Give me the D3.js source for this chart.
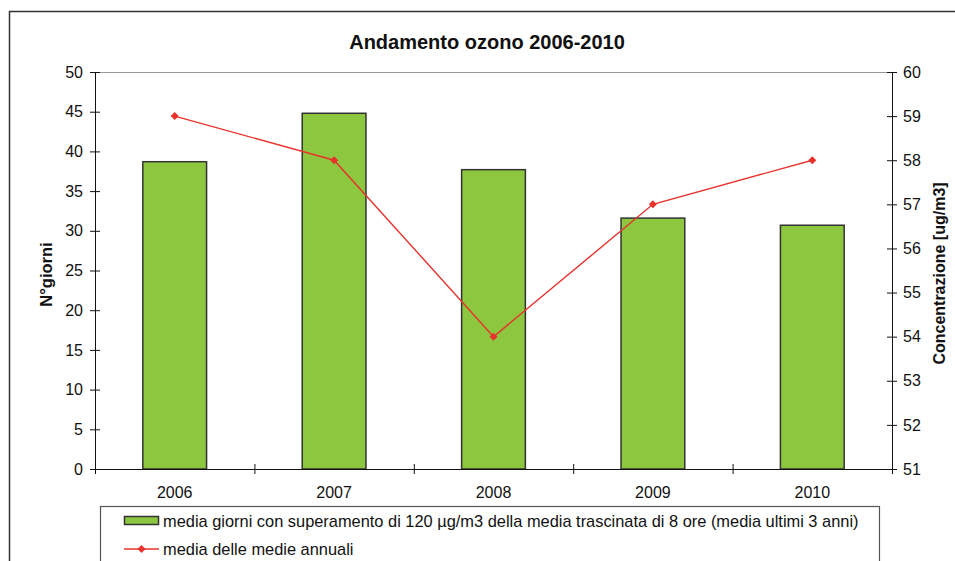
<!DOCTYPE html>
<html>
<head>
<meta charset="utf-8">
<script src="https://cdn.jsdelivr.net/npm/d3@7"></script>
<style>
  body { margin: 0; background: #fff; }
  svg text { font-family: "Liberation Sans", Arial, sans-serif; fill: #111; }
</style>
</head>
<body>
<div id="grafico"></div>
<script>
// dati
const anni = ['2006', '2007', '2008', '2009', '2010'];
const giorniSuperamento = [38.7, 44.8, 37.7, 31.6, 30.7];
const mediaAnnuale = [59, 58, 54, 57, 58];
const tickGiorni = [0, 5, 10, 15, 20, 25, 30, 35, 40, 45, 50];
const tickConc = [51, 52, 53, 54, 55, 56, 57, 58, 59, 60];
const legendaLabels = [
    'media giorni con superamento di 120 µg/m3 della media trascinata di 8 ore (media ultimi 3 anni)',
    'media delle medie annuali'
];

const W = 955, H = 561;
const plot = {left: 95, right: 892, top: 72, bottom: 469};
const rosso = '#e8322c';
const verde = '#8dc63f';

const svg = d3.select('#grafico')
    .append('svg')
    .attr('width', W)
    .attr('height', H);

// cornice esterna
svg.append('rect')
    .attr('x', 9.5)
    .attr('y', 11.5)
    .attr('width', 1000)
    .attr('height', 700)
    .attr('fill', 'none')
    .attr('stroke', '#333')
    .attr('stroke-width', 1.5);

svg.append('text')
    .attr('x', 487)
    .attr('y', 49)
    .attr('text-anchor', 'middle')
    .style('font-size', '20px')
    .style('font-weight', 'bold')
    .text('Andamento ozono 2006-2010');

const x = d3.scaleBand()
    .domain(anni)
    .range([plot.left, plot.right])
    .paddingInner(0.6)
    .paddingOuter(0.3);

const xTick = d3.scaleLinear()
    .domain([0, anni.length])
    .range([plot.left, plot.right]);

const yL = d3.scaleLinear()
    .domain([0, 50])
    .range([plot.bottom, plot.top]);

const yR = d3.scaleLinear()
    .domain([51, 60])
    .range([plot.bottom, plot.top]);

// bordo superiore area grafico
svg.append('line')
    .attr('x1', plot.left)
    .attr('x2', plot.right)
    .attr('y1', plot.top + 0.5)
    .attr('y2', plot.top + 0.5)
    .attr('stroke', '#999')
    .attr('stroke-width', 1.2);

// barre
svg.append('g')
    .selectAll('rect')
    .data(anni)
    .join('rect')
    .attr('x', d => x(d))
    .attr('y', (d, i) => yL(giorniSuperamento[i]))
    .attr('width', x.bandwidth())
    .attr('height', (d, i) => yL(0) - yL(giorniSuperamento[i]))
    .attr('fill', verde)
    .attr('stroke', '#333')
    .attr('stroke-width', 1.5);

// assi
function stileAsse(g) {
    g.selectAll('.tick line').attr('stroke', '#111');
    g.select('.domain').attr('stroke', '#111');
    g.style('font-size', '16px');
}

const axL = svg.append('g')
    .attr('transform', `translate(${plot.left},0)`)
    .call(d3.axisLeft(yL).tickValues(tickGiorni).tickSize(5).tickPadding(7).tickSizeOuter(0))
    .call(stileAsse);
axL.selectAll('.tick line').attr('x1', 5);
axL.selectAll('text').attr('font-family', null).attr('font-size', null);

const axR = svg.append('g')
    .attr('transform', `translate(${plot.right},0)`)
    .call(d3.axisRight(yR).tickValues(tickConc).tickSize(5).tickPadding(6).tickSizeOuter(0))
    .call(stileAsse);
axR.selectAll('.tick line').attr('x1', -5);
axR.selectAll('text').attr('font-family', null).attr('font-size', null);

const axB = svg.append('g')
    .attr('transform', `translate(0,${plot.bottom})`)
    .call(d3.axisBottom(xTick).tickValues(d3.range(anni.length + 1)).tickSize(5).tickFormat('').tickSizeOuter(0))
    .call(stileAsse);
axB.selectAll('.tick line').attr('y1', -5);

const axLab = svg.append('g')
    .attr('transform', `translate(0,${plot.bottom})`)
    .call(d3.axisBottom(x).tickSize(0).tickPadding(18))
    .style('font-size', '16px');
axLab.select('.domain').remove();
axLab.selectAll('text').attr('font-family', null);

// titoli assi
svg.append('text')
    .attr('transform', `translate(52,${(plot.top + plot.bottom) / 2 + 4}) rotate(-90)`)
    .attr('text-anchor', 'middle')
    .style('font-size', '16.5px')
    .style('font-weight', 'bold')
    .text('N°giorni');

svg.append('text')
    .attr('transform', `translate(945,${(plot.top + plot.bottom) / 2 + 3}) rotate(-90)`)
    .attr('text-anchor', 'middle')
    .style('font-size', '16px')
    .style('font-weight', 'bold')
    .text('Concentrazione [ug/m3]');

// linea medie annuali
const linea = d3.line()
    .x((d, i) => x(anni[i]) + x.bandwidth() / 2)
    .y(d => yR(d));

svg.append('path')
    .datum(mediaAnnuale)
    .attr('fill', 'none')
    .attr('stroke', rosso)
    .attr('stroke-width', 1.4)
    .attr('d', linea);

const marker = d3.symbol().type(d3.symbolSquare).size(32);

svg.append('g')
    .selectAll('path')
    .data(mediaAnnuale)
    .join('path')
    .attr('d', marker)
    .attr('fill', rosso)
    .attr('transform', (d, i) => `translate(${x(anni[i]) + x.bandwidth() / 2},${yR(d)}) rotate(45)`);

// legenda
const leg = svg.append('g');
leg.append('rect')
    .attr('x', 100.5)
    .attr('y', 506.5)
    .attr('width', 779)
    .attr('height', 100)
    .attr('fill', '#fff')
    .attr('stroke', '#555')
    .attr('stroke-width', 1.2);

leg.append('rect')
    .attr('x', 124.5)
    .attr('y', 516.5)
    .attr('width', 34)
    .attr('height', 8)
    .attr('fill', verde)
    .attr('stroke', '#333')
    .attr('stroke-width', 1.5);

leg.append('line')
    .attr('x1', 124)
    .attr('x2', 159)
    .attr('y1', 549)
    .attr('y2', 549)
    .attr('stroke', rosso)
    .attr('stroke-width', 1.4);

leg.append('path')
    .attr('d', marker)
    .attr('fill', rosso)
    .attr('transform', 'translate(141.5,549) rotate(45)');

leg.selectAll('text.voce')
    .data(legendaLabels)
    .join('text')
    .attr('class', 'voce')
    .attr('x', 163)
    .attr('y', (d, i) => 527 + i * 28)
    .style('font-size', '16.4px')
    .text(d => d);
</script>
</body>
</html>
